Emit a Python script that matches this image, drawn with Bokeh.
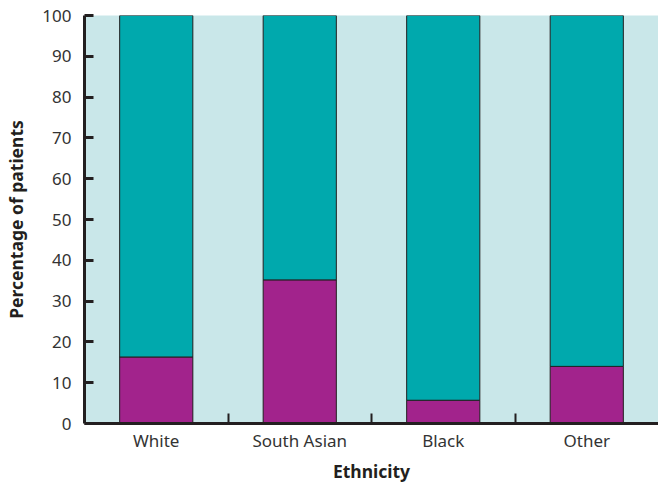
from bokeh.plotting import figure
from bokeh.models import Range1d, FixedTicker, ColumnDataSource
from bokeh.embed import file_html
from bokeh.resources import INLINE

categories = ["White", "South Asian", "Black", "Other"]
magenta_pct = [16.3, 35.2, 5.7, 14.0]
teal_pct = [100 - v for v in magenta_pct]

MAGENTA = "#a2238c"
TEAL = "#00a9ad"
BG = "#c9e7e9"
DARK = "#231f20"
FONT = "Noto Sans"

xs = [i + 0.5 for i in range(len(categories))]
src = ColumnDataSource(dict(x=xs, magenta=magenta_pct, teal=teal_pct))

p = figure(width=658, height=485, output_backend="svg", toolbar_location=None,
           x_range=Range1d(0, 4), y_range=Range1d(0, 100),
           min_border_left=84, min_border_top=15, min_border_right=0)

p.vbar_stack(["magenta", "teal"], x="x", width=0.51, source=src,
             color=[MAGENTA, TEAL], line_color=DARK, line_width=1)

p.background_fill_color = BG
p.border_fill_color = "white"
p.outline_line_color = None
p.xgrid.grid_line_color = None
p.ygrid.grid_line_color = None

# x axis
p.xaxis.ticker = FixedTicker(ticks=xs, minor_ticks=[1, 2, 3])
p.xaxis.major_label_overrides = {x: c for x, c in zip(xs, categories)}
p.xaxis.major_tick_in = 0
p.xaxis.major_tick_out = 0
p.xaxis.minor_tick_in = 10
p.xaxis.minor_tick_out = 0
p.xaxis.minor_tick_line_width = 2
p.xaxis.minor_tick_line_color = DARK
p.xaxis.axis_line_width = 3
p.xaxis.axis_line_color = DARK
p.xaxis.axis_label = "Ethnicity"
p.xaxis.major_label_standoff = 5

# y axis
p.yaxis.ticker = FixedTicker(ticks=list(range(0, 101, 10)))
p.yaxis.minor_tick_line_color = None
p.yaxis.major_tick_in = 9
p.yaxis.major_tick_out = 0
p.yaxis.major_tick_line_width = 3
p.yaxis.major_tick_line_color = DARK
p.yaxis.axis_line_width = 3
p.yaxis.axis_line_color = DARK
p.yaxis.axis_label = "Percentage of patients"
p.yaxis.major_label_standoff = 13

for ax in (p.xaxis[0], p.yaxis[0]):
    ax.major_label_text_font = FONT
    ax.major_label_text_font_size = "17px"
    ax.major_label_text_color = "#333333"
    ax.axis_label_text_font = FONT
    ax.axis_label_text_font_size = "17.5px"
    ax.axis_label_text_font_style = "bold"
    ax.axis_label_text_color = DARK
p.xaxis.axis_label_standoff = 4
p.yaxis.axis_label_standoff = 11

open("out.html", "w").write(file_html(p, INLINE))
